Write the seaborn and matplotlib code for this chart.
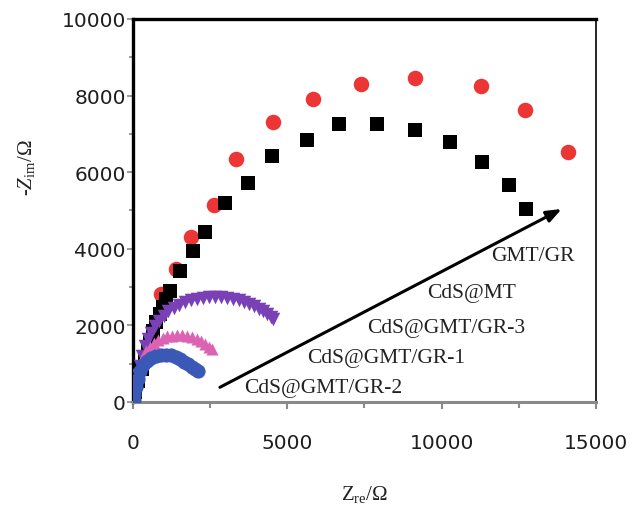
import numpy as np
import pandas as pd
import matplotlib
matplotlib.use('Agg')
import matplotlib.pyplot as plt
import seaborn as sns

# Nyquist data (Z_re, -Z_im in ohm)
gmt_gr_re = [917, 1404, 1890, 2634, 3327, 4536, 5841, 7377, 9136, 11265, 12700, 14102]
gmt_gr_im = [2820, 3473, 4300, 5151, 6353, 7303, 7911, 8295, 8452, 8243, 7624, 6519]

cds_mt_re = [80, 180, 280, 380, 480, 560, 648, 756, 864, 972, 1080, 1188, 1512, 1944, 2342,
             2990, 3726, 4503, 5627, 6684, 7895, 9146, 10270, 11297, 12192, 12732]
cds_mt_im = [250, 550, 850, 1150, 1400, 1620, 1862, 2081, 2298, 2472, 2689, 2906, 3428, 3950, 4447,
             5196, 5726, 6415, 6841, 7258, 7258, 7110, 6780, 6258, 5674, 5039]

gr3_re = [150, 220, 300, 400, 500, 600, 720, 850, 1000, 1150, 1320, 1500, 1680, 1870, 2060,
          2260, 2460, 2660, 2860, 3060, 3250, 3430, 3600, 3770, 3930, 4080, 4220, 4350, 4460, 4540]
gr3_im = [700, 950, 1200, 1450, 1650, 1800, 1980, 2120, 2250, 2370, 2460, 2540, 2600, 2650, 2690,
          2715, 2730, 2740, 2735, 2725, 2700, 2665, 2620, 2570, 2510, 2440, 2370, 2300, 2230, 2170]

gr1_re = [60, 100, 160, 240, 330, 430, 550, 680, 820, 970, 1120, 1280, 1440, 1600, 1760,
          1910, 2060, 2200, 2330, 2450, 2560]
gr1_im = [300, 560, 800, 1000, 1180, 1320, 1440, 1540, 1610, 1670, 1710, 1735, 1745, 1740, 1720,
          1690, 1640, 1580, 1510, 1440, 1380]

gr2_re = [30, 50, 90, 150, 230, 330, 450, 590, 740, 900, 1060, 1220, 1380, 1530, 1670,
          1800, 1920, 2020, 2100]
gr2_im = [50, 200, 400, 600, 800, 960, 1080, 1160, 1210, 1235, 1235, 1215, 1175, 1120, 1050,
          980, 910, 850, 800]

labels = ['GMT/GR', 'CdS@MT', 'CdS@GMT/GR-3', 'CdS@GMT/GR-1', 'CdS@GMT/GR-2']
label_x = [12960, 10973, 10162, 8219, 6165]
label_y = [3820, 2864, 1950, 1167, 383]

sns.set_style('white')
plt.rcParams['font.family'] = ['DejaVu Sans']
plt.rcParams['mathtext.fontset'] = 'custom'
plt.rcParams['mathtext.rm'] = 'Liberation Serif'
plt.rcParams['mathtext.it'] = 'Liberation Serif:italic'

fig = plt.figure(figsize=(6.36, 5.06), dpi=100)
ax = fig.add_axes([0.209, 0.2036, 0.728, 0.7569])

series = [
    (gmt_gr_re, gmt_gr_im, 'o', '#ec3535', 125),
    (cds_mt_re, cds_mt_im, 's', 'black', 90),
    (gr3_re, gr3_im, 'v', '#7a40b6', 95),
    (gr1_re, gr1_im, '^', '#dc63b4', 75),
    (gr2_re, gr2_im, 'o', '#3a58b5', 105),
]
for xs, ys, m, c, s in series:
    df = pd.DataFrame({'re': xs, 'im': ys})
    sns.scatterplot(data=df, x='re', y='im', marker=m, color=c, s=s,
                    linewidth=0, ax=ax, zorder=3)

ax.set_xlim(0, 15000)
ax.set_ylim(0, 10000)
ax.set_xticks([0, 5000, 10000, 15000])
ax.set_yticks([0, 2000, 4000, 6000, 8000, 10000])
ax.set_xticks([2500, 7500, 12500], minor=True)
ax.set_yticks([1000, 3000, 5000, 7000, 9000], minor=True)

ax.tick_params(axis='x', which='both', direction='out', color='#8a8a8a', width=1.5,
               labelsize=14.5, pad=17, bottom=True, labelcolor='#1e1e1e')
ax.tick_params(axis='x', which='major', length=5)
ax.tick_params(axis='x', which='minor', length=4)
ax.tick_params(axis='y', which='both', direction='out', color='#8a8a8a', width=1.2,
               labelsize=14.5, pad=1, left=True, labelcolor='#1e1e1e')
ax.tick_params(axis='y', which='major', length=4)
ax.tick_params(axis='y', which='minor', length=3)

for side in ['top', 'left', 'right', 'bottom']:
    ax.spines[side].set_visible(True)
ax.spines['top'].set_color('black')
ax.spines['top'].set_linewidth(2.4)
ax.spines['left'].set_color('black')
ax.spines['left'].set_linewidth(2.4)
ax.spines['right'].set_color('black')
ax.spines['right'].set_linewidth(1.2)
ax.spines['bottom'].set_color('#8a8a8a')
ax.spines['bottom'].set_linewidth(2.2)

ax.set_xlabel('Z$_{\\mathrm{re}}$/\u03a9', family='Liberation Serif', fontsize=15, color='#222222')
ax.set_ylabel('-$Z_{\\mathrm{im}}$/\u03a9', family='Liberation Serif', fontsize=15, color='#222222')
ax.xaxis.set_label_coords(0.5, -0.212)
ax.yaxis.set_label_coords(-0.207, 0.614)

ax.annotate('', xy=(13889, 5039), xytext=(2818, 383),
            arrowprops=dict(arrowstyle='-|>,head_length=0.9,head_width=0.35',
                            color='black', lw=2.2, shrinkA=0, shrinkB=0), zorder=4)

for t, x, y in zip(labels, label_x, label_y):
    ax.text(x, y, t, family='Liberation Serif', fontsize=15.5, color='#222222',
            ha='center', va='center', zorder=4)

fig.savefig('out.png', dpi=100)
